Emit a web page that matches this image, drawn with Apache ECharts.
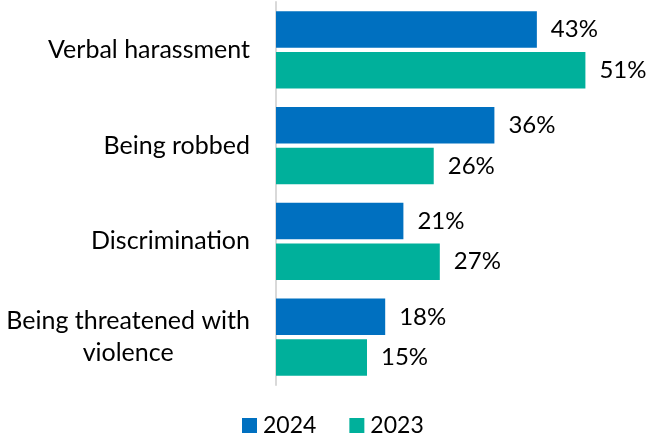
<!DOCTYPE html>
<html>
<head>
<meta charset="utf-8">
<script src="https://cdn.jsdelivr.net/npm/echarts@6/dist/echarts.min.js"></script>
<style>html,body{margin:0;padding:0;background:#fff}#c{width:649px;height:437px}</style>
</head>
<body>
<div id="c"></div>
<script>
const categories = ["Verbal harassment", "Being robbed", "Discrimination", "Being threatened with\nviolence"];
const seriesNames = ["2024", "2023"];
const values2024 = [43, 36, 21, 18];
const values2023 = [51, 26, 27, 15];

const FONT = "Lato";
const CAT_FS = 25;
const VAL_FS = 24;
const LEG_FS = 23;
const ctx = document.createElement('canvas').getContext('2d');
ctx.font = CAT_FS + 'px ' + FONT;
const tw = s => ctx.measureText(s).width;

// rich styles for centering lines of multi-line category labels
const rich = {};
let richIdx = 0;
const richMap = {};
categories.forEach(c => {
  const lines = c.split('\n');
  if (lines.length < 2) return;
  const maxW = Math.max(...lines.map(tw));
  richMap[c] = lines.map(l => {
    const key = 'r' + (richIdx++);
    rich[key] = {fontFamily: FONT, fontSize: CAT_FS, color: '#000', lineHeight: 32, padding: [0, (maxW - tw(l)) / 2, 0, 0]};
    return '{' + key + '|' + l + '}';
  }).join('\n');
});

const chart = echarts.init(document.getElementById('c'));
const labelCfg = {show: true, position: 'right', distance: 14, formatter: '{c}%', color: '#000', fontFamily: FONT, fontSize: VAL_FS};
chart.setOption({
  animation: false,
  textStyle: {fontFamily: FONT},
  grid: {left: 276, right: 9, top: 2, bottom: 52},
  legend: {
    data: seriesNames, left: 237, top: 409, itemWidth: 15, itemHeight: 15, itemGap: 33,
    icon: 'rect', textStyle: {fontFamily: FONT, fontSize: LEG_FS, color: '#000', padding: [0, 0, 0, 1]}
  },
  xAxis: {type: 'value', min: 0, max: 60, show: false},
  yAxis: {
    type: 'category', data: categories, inverse: true,
    axisLine: {show: true, lineStyle: {color: '#d9d9d9', width: 2}},
    axisTick: {show: false},
    axisLabel: {
      margin: 26, color: '#000', fontFamily: FONT, fontSize: CAT_FS, lineHeight: 32,
      formatter: v => richMap[v] || v,
      rich: rich
    }
  },
  series: [
    {name: seriesNames[0], type: 'bar', data: values2024, barWidth: 36.5, barGap: '11%', itemStyle: {color: '#0070C0'}, label: labelCfg},
    {name: seriesNames[1], type: 'bar', data: values2023, barWidth: 36.5, itemStyle: {color: '#00B09B'}, label: labelCfg}
  ]
});
</script>
</body>
</html>
